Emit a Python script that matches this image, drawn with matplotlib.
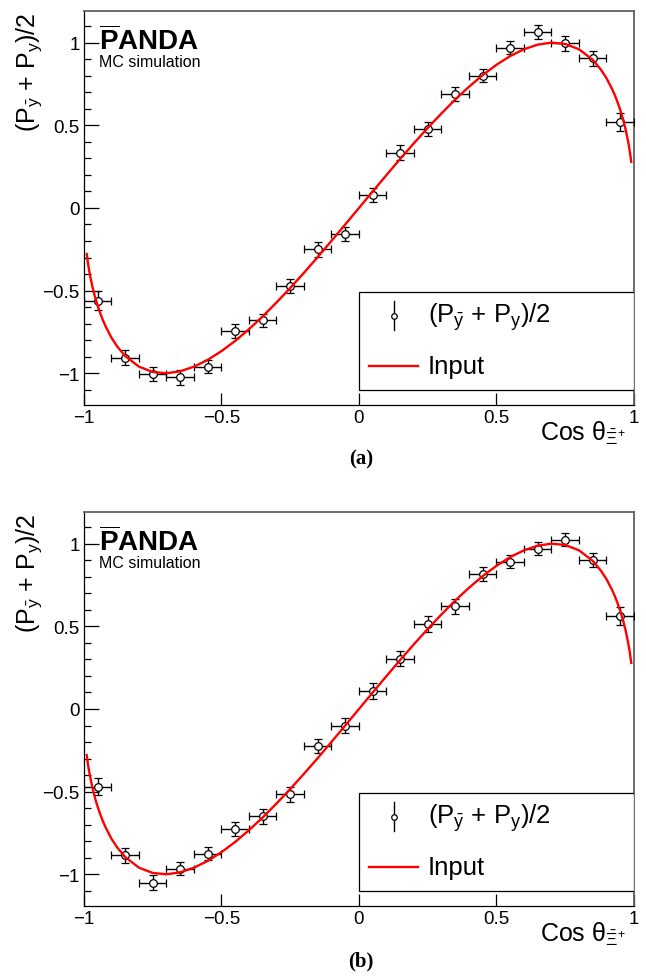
import matplotlib
matplotlib.use("Agg")
import matplotlib.pyplot as plt
from matplotlib.ticker import MultipleLocator, FixedLocator, FuncFormatter, NullLocator
from matplotlib.patches import Rectangle

plt.rcParams['font.family'] = ['Liberation Sans', 'DejaVu Sans']
plt.rcParams['mathtext.fontset'] = 'custom'
plt.rcParams['mathtext.rm'] = 'Liberation Sans'
plt.rcParams['mathtext.it'] = 'Liberation Sans:italic'
plt.rcParams['mathtext.bf'] = 'Liberation Sans:bold'
plt.rcParams['mathtext.default'] = 'regular'

# bin centres in cos(theta) and half bin width
cos_bins = [-0.95, -0.85, -0.75, -0.65, -0.55, -0.45, -0.35, -0.25, -0.15, -0.05,
            0.05, 0.15, 0.25, 0.35, 0.45, 0.55, 0.65, 0.75, 0.85, 0.95]
bin_half = [0.05] * 20

# panel (a)
pol_a = [-0.56, -0.905, -1.005, -1.025, -0.96, -0.745, -0.68, -0.47, -0.25, -0.155,
         0.08, 0.335, 0.475, 0.69, 0.80, 0.97, 1.065, 0.995, 0.905, 0.52]
err_a = [0.056, 0.044, 0.043, 0.043, 0.038, 0.042, 0.041, 0.042, 0.044, 0.042,
         0.042, 0.044, 0.042, 0.043, 0.040, 0.039, 0.040, 0.044, 0.044, 0.052]

# panel (b)
pol_b = [-0.47, -0.885, -1.05, -0.965, -0.875, -0.725, -0.65, -0.515, -0.225, -0.10,
         0.11, 0.305, 0.515, 0.62, 0.815, 0.89, 0.97, 1.025, 0.90, 0.56]
err_b = [0.053, 0.045, 0.044, 0.042, 0.039, 0.043, 0.045, 0.046, 0.044, 0.047,
         0.047, 0.043, 0.047, 0.046, 0.041, 0.040, 0.038, 0.040, 0.043, 0.054]

# input curve
input_x = [-0.99, -0.985, -0.98, -0.97, -0.96, -0.95, -0.94, -0.93, -0.92, -0.9, -0.88,
           -0.85, -0.8, -0.75, -0.7, -0.65, -0.6, -0.55, -0.5, -0.45, -0.4, -0.35, -0.3,
           -0.25, -0.2, -0.15, -0.1, -0.05, 0.0, 0.05, 0.1, 0.15, 0.2, 0.25, 0.3, 0.35,
           0.4, 0.45, 0.5, 0.55, 0.6, 0.65, 0.7, 0.75, 0.8, 0.85, 0.88, 0.9, 0.92, 0.93,
           0.94, 0.95, 0.96, 0.97, 0.98, 0.985, 0.99]
input_y = [-0.279, -0.340, -0.390, -0.472, -0.538, -0.593, -0.641, -0.684, -0.721, -0.785,
           -0.836, -0.896, -0.960, -0.992, -1.000, -0.988, -0.960, -0.919, -0.866, -0.804,
           -0.733, -0.656, -0.572, -0.484, -0.392, -0.297, -0.199, -0.100, 0.0, 0.100,
           0.199, 0.297, 0.392, 0.484, 0.572, 0.656, 0.733, 0.804, 0.866, 0.919, 0.960,
           0.988, 1.000, 0.992, 0.960, 0.896, 0.836, 0.785, 0.721, 0.684, 0.641, 0.593,
           0.538, 0.472, 0.390, 0.340, 0.279]

ylab = r'(P$_{\bar{y}}$ + P$_{y}$)/2'
xlab = r'Cos $\theta_{\bar{\Xi}^{+}}$'

def fmt(v, pos):
    return f'{v:g}'.replace('-', '\u2212')


def draw_panel(ax, pol, err):
    ax.errorbar(cos_bins, pol, xerr=bin_half, yerr=err, fmt='o', ms=5.5, mfc='white',
                mec='black', mew=0.9, ecolor='black', elinewidth=1.0, capsize=3.2,
                capthick=1.0, zorder=3)
    ax.plot(input_x, input_y, color='red', lw=1.7, zorder=5)

    ax.set_xlim(-1, 1)
    ax.set_ylim(-1.19, 1.19)
    ax.xaxis.set_major_locator(FixedLocator([-1, -0.5, 0, 0.5, 1]))
    ax.xaxis.set_minor_locator(NullLocator())
    ax.yaxis.set_major_locator(MultipleLocator(0.5))
    ax.yaxis.set_minor_locator(MultipleLocator(0.1))
    ax.xaxis.set_major_formatter(FuncFormatter(fmt))
    ax.yaxis.set_major_formatter(FuncFormatter(fmt))
    ax.tick_params(axis='x', which='major', direction='in', length=8.6, width=0.9,
                   labelsize=13.5, pad=3)
    ax.tick_params(axis='y', which='major', direction='in', length=10.8, width=0.9,
                   labelsize=13.5, pad=3)
    ax.tick_params(axis='y', which='minor', direction='in', length=5, width=0.9)
    for s in ['left', 'bottom']:
        ax.spines[s].set_linewidth(0.9)
    for s in ['top', 'right']:
        ax.spines[s].set_color('#606060')
        ax.spines[s].set_linewidth(1.3)

    ax.text(-0.1, 1.0, ylab, rotation=90, ha='center', va='top', fontsize=18,
            transform=ax.transAxes)
    ax.text(0.985, -0.09, xlab, ha='right', va='baseline', fontsize=18,
            transform=ax.transAxes)

    ax.text(0.027, 0.904, r'$\overline{P}$ANDA', fontsize=20, fontweight='bold',
            ha='left', va='baseline', transform=ax.transAxes)
    ax.text(0.027, 0.862, 'MC simulation', fontsize=11.5, ha='left', va='baseline',
            transform=ax.transAxes)

    # legend box
    ax.add_patch(Rectangle((0.4996, 0.0374), 0.5004, 0.2483, transform=ax.transAxes,
                           facecolor='white', edgecolor='black', lw=0.9, zorder=6))
    ax.plot([0.563, 0.563], [0.189, 0.263], color='black', lw=1.0,
            transform=ax.transAxes, zorder=7)
    ax.plot([0.563], [0.226], 'o', ms=4, mfc='white', mec='black', mew=0.9,
            transform=ax.transAxes, zorder=8)
    ax.text(0.625, 0.226, ylab, fontsize=18.5, ha='left', va='center',
            transform=ax.transAxes, zorder=8)
    ax.plot([0.519, 0.607], [0.099, 0.099], color='red', lw=1.7,
            transform=ax.transAxes, zorder=7)
    ax.text(0.625, 0.099, 'Input', fontsize=18.5, ha='left', va='center',
            transform=ax.transAxes, zorder=8)


fig = plt.figure(figsize=(6.46, 9.78), dpi=100)
ax1 = fig.add_axes([0.1300, 0.5852, 0.8514, 0.4023])
ax2 = fig.add_axes([0.1300, 0.0729, 0.8514, 0.4023])
draw_panel(ax1, pol_a, err_a)
draw_panel(ax2, pol_b, err_b)

fig.text(0.5588, 0.5297, '(a)', ha='center', va='center', fontsize=15,
         fontweight='bold', family='Liberation Serif')
fig.text(0.5588, 0.0167, '(b)', ha='center', va='center', fontsize=15,
         fontweight='bold', family='Liberation Serif')

fig.savefig('out.png', dpi=100)
